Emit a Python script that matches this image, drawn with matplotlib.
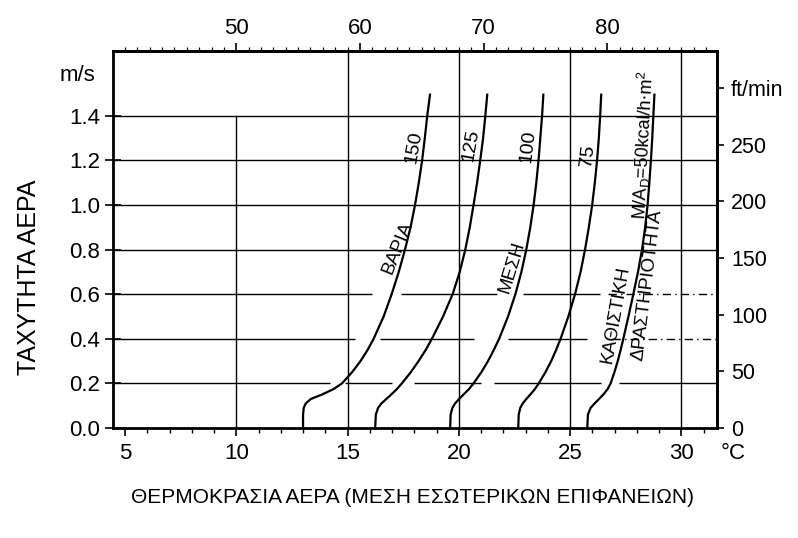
import matplotlib
matplotlib.use('Agg')
import matplotlib.pyplot as plt
from matplotlib.ticker import MultipleLocator, FixedLocator

plt.rcParams['font.family'] = ['Liberation Sans', 'DejaVu Sans']

# ---- data ----
speed = [0.0, 0.06, 0.09, 0.11, 0.13, 0.15, 0.175, 0.20, 0.25, 0.30, 0.35, 0.40,
         0.50, 0.60, 0.70, 0.80, 0.90, 1.00, 1.10, 1.20, 1.30, 1.40, 1.50]
temp_150 = [13.0, 13.0, 13.03, 13.12, 13.35, 13.85, 14.38, 14.75, 15.2, 15.58, 15.9,
            16.17, 16.62, 16.98, 17.3, 17.58, 17.83, 18.03, 18.2, 18.35, 18.47,
            18.58, 18.71]
temp_125 = [16.24, 16.27, 16.37, 16.52, 16.74, 16.96, 17.22, 17.44, 17.84, 18.19,
            18.51, 18.79, 19.29, 19.72, 20.04, 20.29, 20.49, 20.66, 20.82, 20.96,
            21.09, 21.19, 21.28]
temp_100 = [19.61, 19.63, 19.71, 19.83, 20.01, 20.21, 20.46, 20.66, 21.01, 21.31,
            21.57, 21.81, 22.21, 22.54, 22.81, 23.03, 23.21, 23.36, 23.48, 23.58,
            23.66, 23.74, 23.8]
temp_75 = [22.67, 22.69, 22.76, 22.87, 23.03, 23.21, 23.42, 23.59, 23.89, 24.15,
           24.37, 24.57, 24.92, 25.22, 25.47, 25.67, 25.84, 25.99, 26.11, 26.21,
           26.29, 26.35, 26.4]
temp_50 = [25.77, 25.8, 25.92, 26.1, 26.3, 26.49, 26.69, 26.82, 26.99, 27.14, 27.27,
           27.39, 27.62, 27.84, 28.05, 28.23, 28.37, 28.48, 28.56, 28.63, 28.69,
           28.74, 28.79]

curve_labels = ['150', '125', '100', '75',
                r'M/A$_\mathregular{D}$=50kcal/h$\cdot$m$^\mathregular{2}$']
activity_labels = ['ΒΑΡΙΑ', 'ΜΕΣΗ', 'ΚΑΘΙΣΤΙΚΗ', 'ΔΡΑΣΤΗΡΙΟΤΗΤΑ']

x_ticks = [5, 10, 15, 20, 25, 30]
y_ticks = [0.0, 0.2, 0.4, 0.6, 0.8, 1.0, 1.2, 1.4]
f_ticks = [50, 60, 70, 80]
fpm_ticks = [0, 50, 100, 150, 200, 250, 300]
fpm_labels = ['0', '50', '100', '150', '200', '250', 'ft/min']

x_label = 'ΘΕΡΜΟΚΡΑΣΙΑ ΑΕΡΑ (ΜΕΣΗ ΕΣΩΤΕΡΙΚΩΝ ΕΠΙΦΑΝΕΙΩΝ)'
y_label = 'ΤΑΧΥΤΗΤΑ ΑΕΡΑ'

# ---- figure ----
fig = plt.figure(figsize=(7.98, 5.38), dpi=100)
ax = fig.add_axes([0.1416, 0.2045, 0.7569, 0.7007])
XMIN, XMAX, YMIN, YMAX = 4.46, 31.6, 0.0, 1.691
ax.set_xlim(XMIN, XMAX)
ax.set_ylim(YMIN, YMAX)

FS = 16
LFS = 13
SPW = 2.0
GW = 1.0
DASHDOT = (0, (6, 3, 1, 3))

# horizontal grid lines (with the gaps of the original drawing)
hgrid = {
    0.2: [(XMIN, 14.2, '-'), (14.9, 17.0, '-'), (18.0, 21.0, '-'), (21.6, 26.4, '-'),
          (27.2, XMAX, '-')],
    0.4: [(XMIN, 15.34, '-'), (16.47, 20.7, '-'), (22.2, 25.77, '-'), (26.9, XMAX, DASHDOT)],
    0.6: [(XMIN, 16.1, '-'), (17.4, 21.7, '-'), (22.9, 26.36, '-'), (26.7, XMAX, DASHDOT)],
    0.8: [(XMIN, XMAX, '-')],
    1.0: [(XMIN, XMAX, '-')],
    1.2: [(XMIN, XMAX, '-')],
    1.4: [(XMIN, XMAX, '-')],
}
for y, segs in hgrid.items():
    for x0, x1, ls in segs:
        ax.plot([x0, x1], [y, y], color='black', lw=GW, ls=ls, zorder=1,
                solid_capstyle='butt')

# vertical grid lines
ax.plot([10, 10], [0, 1.4], color='black', lw=GW, zorder=1)
for xv in [15, 20, 25, 30]:
    ax.plot([xv, xv], [YMIN, YMAX], color='black', lw=GW, zorder=1)

# curves
for t in [temp_150, temp_125, temp_100, temp_75, temp_50]:
    ax.plot(t, speed, color='black', lw=1.6, zorder=3, solid_joinstyle='round',
            solid_capstyle='butt')

# curve labels
label_pos = [(17.97, 1.26, 80, 14), (20.55, 1.27, 80, 14), (23.1, 1.265, 83, 14),
             (25.8, 1.22, 83, 14), (28.29, 1.27, 87, 13)]
for (x, y, r, fs), s in zip(label_pos, curve_labels):
    ax.text(x, y, s, rotation=r, ha='center', va='center', fontsize=fs,
            rotation_mode='anchor', zorder=4)
act_pos = [(17.23, 0.81, 68), (22.4, 0.72, 73), (27.03, 0.51, 80), (28.47, 0.64, 83)]
for (x, y, r), s in zip(act_pos, activity_labels):
    ax.text(x, y, s, rotation=r, ha='center', va='center', fontsize=LFS + 0.5,
            rotation_mode='anchor', zorder=4)

# spines
for sp in ax.spines.values():
    sp.set_linewidth(SPW)

# bottom axis (deg C)
ax.xaxis.set_major_locator(FixedLocator(x_ticks))
ax.xaxis.set_minor_locator(MultipleLocator(1))
ax.tick_params(axis='x', which='major', direction='out', length=6, width=1.2,
               labelsize=FS, pad=5)
ax.tick_params(axis='x', which='minor', direction='out', length=3.5, width=1.0)

# left axis (m/s)
ax.yaxis.set_major_locator(FixedLocator(y_ticks))
ax.set_yticklabels([f'{v:.1f}' for v in y_ticks])
ax.tick_params(axis='y', which='major', direction='inout', length=12, width=1.2,
               labelsize=FS, pad=3)
ax.text(-0.03, 0.934, 'm/s', transform=ax.transAxes, fontsize=FS, ha='right',
        va='center')

# top axis (deg F)
top = ax.secondary_xaxis('top', functions=(lambda c: c * 9 / 5 + 32,
                                           lambda f: (f - 32) * 5 / 9))
top.set_xticks(f_ticks)
top.xaxis.set_minor_locator(MultipleLocator(1))
top.tick_params(which='major', direction='out', length=6, width=1.2, labelsize=FS, pad=3)
top.tick_params(which='minor', direction='out', length=3, width=0.9)
top.spines['top'].set_linewidth(SPW)

# right axis (ft/min)
right = ax.secondary_yaxis('right', functions=(lambda v: v * 196.85,
                                               lambda f: f / 196.85))
right.set_yticks(fpm_ticks)
right.set_yticklabels(fpm_labels)
right.tick_params(direction='out', length=5, width=1.2, labelsize=15.5, pad=5)
right.spines['right'].set_linewidth(SPW)

# axis titles
fig.text(0.036, 0.485, y_label, rotation=90, ha='center', va='center', fontsize=18)
fig.text(0.517, 0.076, x_label, ha='center', va='center', fontsize=15)

# degree-C unit next to the last bottom tick label
fig.canvas.draw()
lab = ax.get_xticklabels()[-1]
bb = lab.get_window_extent()
ycen = (bb.y0 + bb.y1) / 2
x_disp = ax.transAxes.transform((1.0, 0))[0] + 4
xf, yf = fig.transFigure.inverted().transform((x_disp, ycen))
fig.text(xf, yf, '°C', fontsize=FS, ha='left', va='center')

fig.savefig('out.png', dpi=100)
